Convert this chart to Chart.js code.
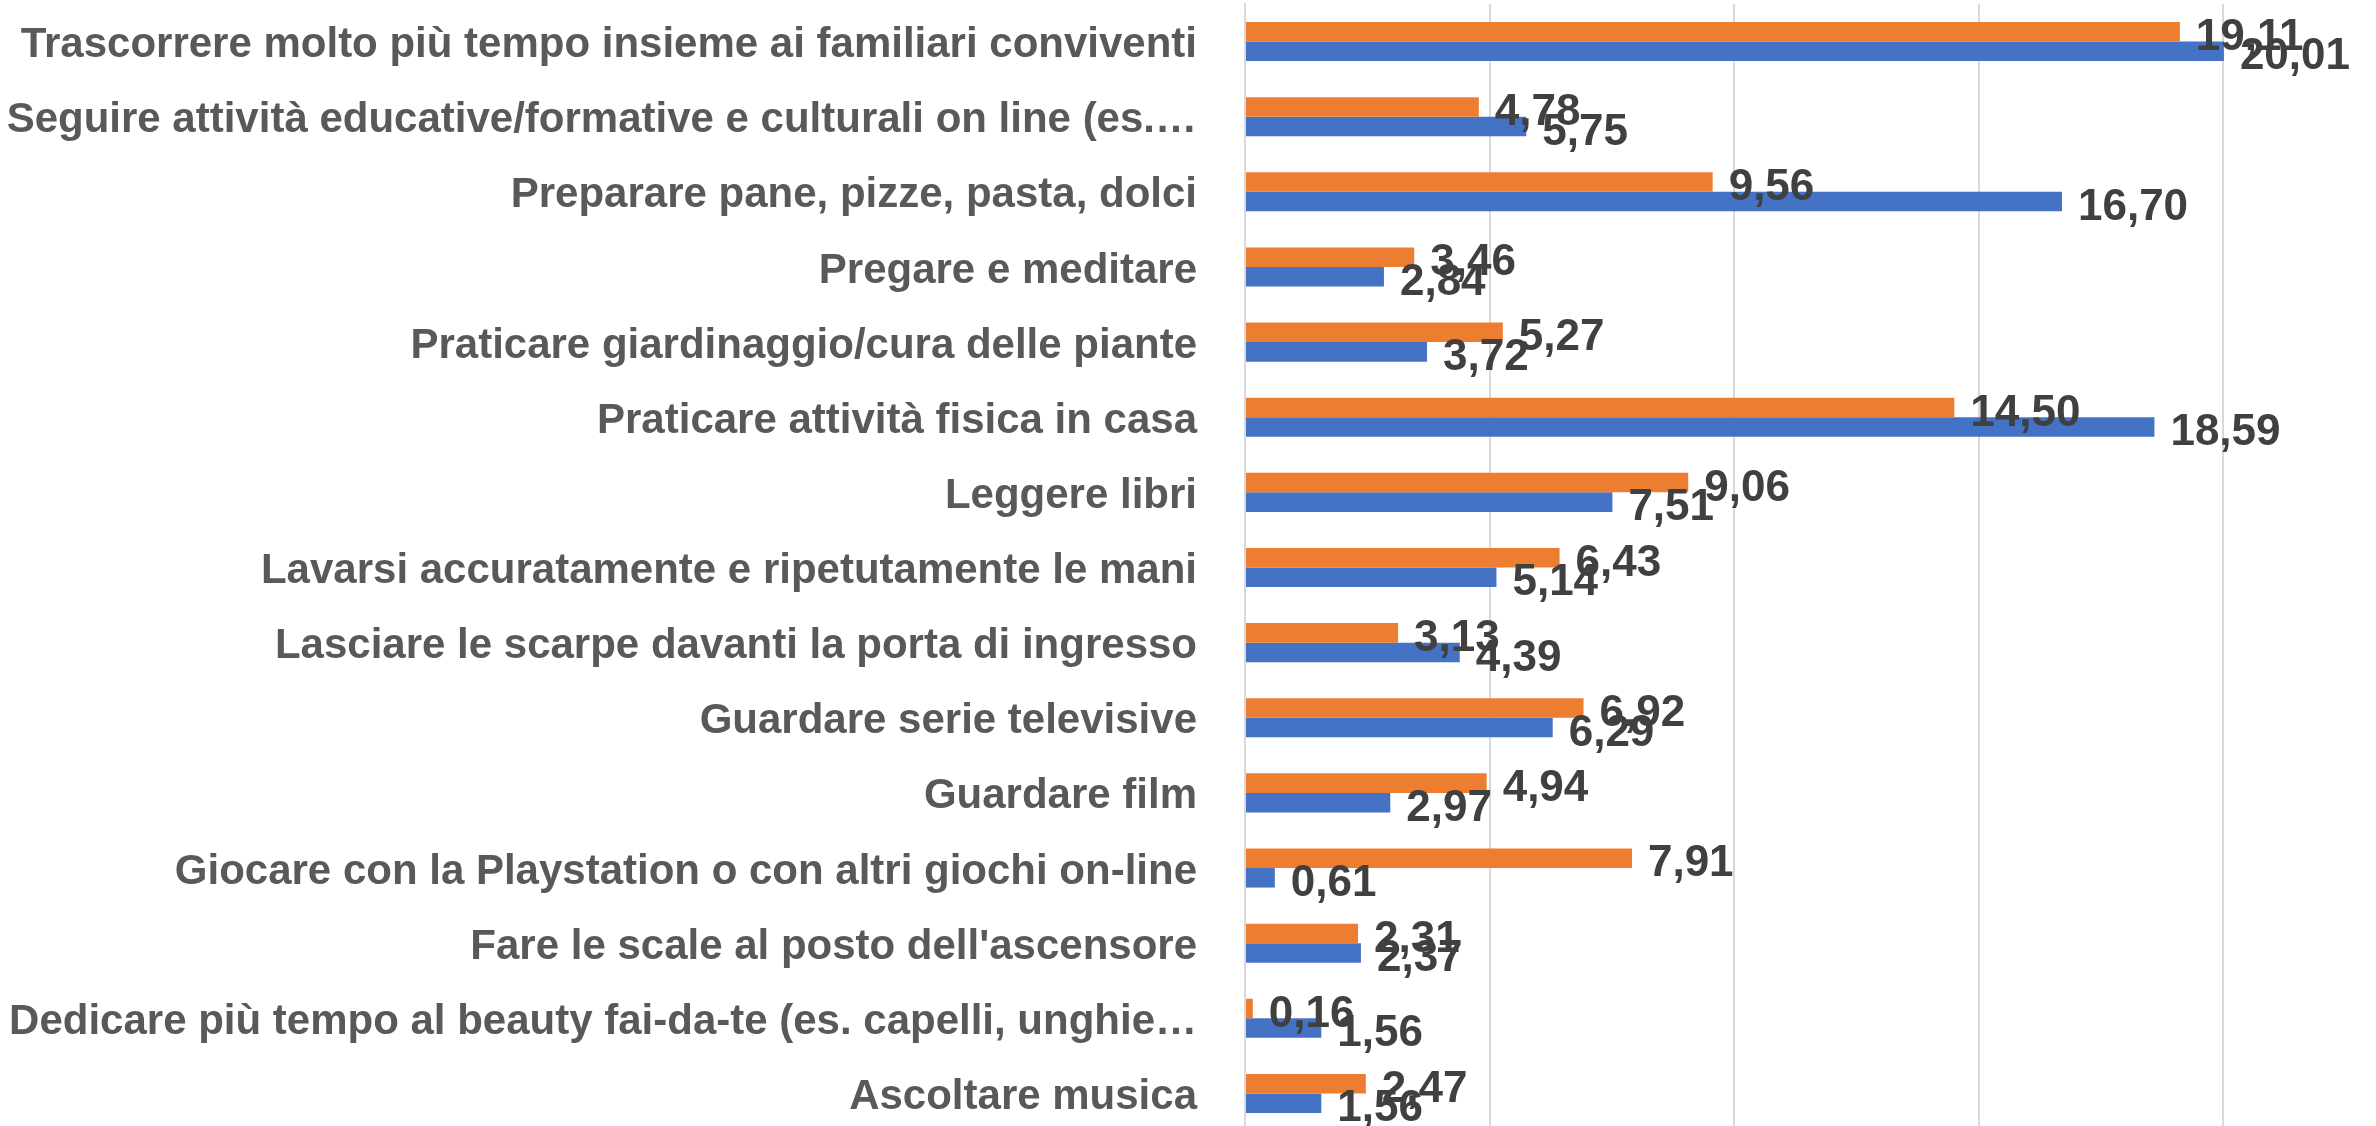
<!DOCTYPE html>
<html lang="it">
<head>
<meta charset="utf-8">
<title>Attività durante il lockdown</title>
<script src="https://cdn.jsdelivr.net/npm/chart.js@4.4.1/dist/chart.umd.min.js"></script>
<style>
    html, body { margin: 0; padding: 0; background: #ffffff; overflow: hidden; }
    #wrap { position: absolute; left: 0; top: 0; width: 2470px; height: 1131px; }
</style>
</head>
<body>
<div id="wrap"><canvas id="chart"></canvas></div>
<script>
// Dati del grafico
const categories = [
    'Trascorrere molto più tempo insieme ai familiari conviventi',
    'Seguire attività educative/formative e culturali on line (es.…',
    'Preparare pane, pizze, pasta, dolci',
    'Pregare e meditare',
    'Praticare giardinaggio/cura delle piante',
    'Praticare attività fisica in casa',
    'Leggere libri',
    'Lavarsi accuratamente e ripetutamente le mani',
    'Lasciare le scarpe davanti la porta di ingresso',
    'Guardare serie televisive',
    'Guardare film',
    'Giocare con la Playstation o con altri giochi on-line',
    "Fare le scale al posto dell'ascensore",
    'Dedicare più tempo al beauty fai-da-te (es. capelli, unghie…',
    'Ascoltare musica'
];
const serie2 = [19.11, 4.78, 9.56, 3.46, 5.27, 14.50, 9.06, 6.43, 3.13, 6.92, 4.94, 7.91, 2.31, 0.16, 2.47];
const serie1 = [20.01, 5.75, 16.70, 2.84, 3.72, 18.59, 7.51, 5.14, 4.39, 6.29, 2.97, 0.61, 2.37, 1.56, 1.56];
const xTicks = [0, 5, 10, 15, 20, 25];

const ORANGE = '#ED7D31';
const BLUE = '#4472C4';
const GRID = '#D9D9D9';
const FONT = '"Liberation Sans", Arial, sans-serif';

// Etichette dei valori (fuori dalla barra, a destra)
const valueLabels = {
    id: 'valueLabels',
    afterDatasetsDraw(chart) {
        const ctx = chart.ctx;
        ctx.save();
        ctx.font = 'bold 44px ' + FONT;
        ctx.fillStyle = '#404040';
        ctx.textAlign = 'left';
        ctx.textBaseline = 'middle';
        chart.data.datasets.forEach((ds, i) => {
            const meta = chart.getDatasetMeta(i);
            meta.data.forEach((bar, j) => {
                const txt = ds.data[j].toFixed(2).replace('.', ',');
                ctx.fillText(txt, bar.x + 16, bar.y + 6);
            });
        });
        ctx.restore();
    }
};

new Chart(document.getElementById('chart'), {
    type: 'bar',
    data: {
        labels: categories,
        datasets: [{
            label: 'Serie 2',
            data: serie2,
            backgroundColor: ORANGE
        }, {
            label: 'Serie 1',
            data: serie1,
            backgroundColor: BLUE
        }]
    },
    options: {
        indexAxis: 'y',
        responsive: true,
        maintainAspectRatio: false,
        animation: false,
        categoryPercentage: 0.52,
        barPercentage: 1,
        layout: { padding: { top: 4, right: 2, bottom: 0, left: 0 } },
        plugins: {
            legend: { display: false },
            tooltip: { enabled: false }
        },
        scales: {
            x: {
                min: xTicks[0],
                max: xTicks[xTicks.length - 1],
                afterBuildTicks: (scale) => { scale.ticks = xTicks.map(v => ({ value: v })); },
                ticks: { display: false },
                grid: { color: GRID, lineWidth: 2, drawTicks: false },
                border: { display: false }
            },
            y: {
                afterFit: (scale) => {
                    // larghezza fissa dell'asse e niente margine extra sopra/sotto
                    scale.width = 1245;
                    scale.paddingTop = 0;
                    scale.paddingBottom = 0;
                },
                ticks: {
                    color: '#595959',
                    padding: 48,
                    labelOffset: 4,
                    autoSkip: false,
                    font: { family: FONT, size: 42, weight: 'bold' }
                },
                grid: { display: false, drawTicks: false },
                border: { display: true, color: GRID, width: 2 }
            }
        }
    },
    plugins: [valueLabels]
});
</script>
</body>
</html>
